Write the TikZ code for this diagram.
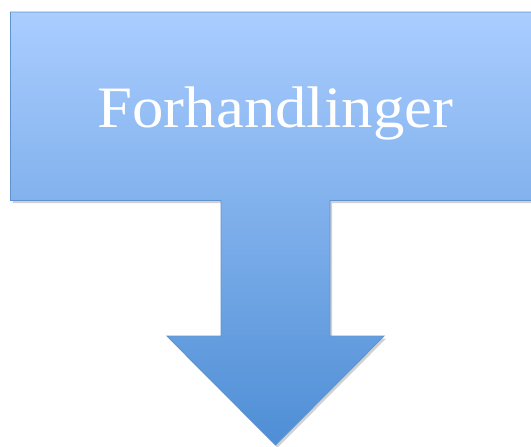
\documentclass[tikz,border=0pt]{standalone}
\usepackage{fontspec}
\setmainfont{Liberation Serif}
\usetikzlibrary{shadows}
\definecolor{tbluetop}{HTML}{AACDFF}
\definecolor{tbluebot}{HTML}{4E8ED5}
\definecolor{tblueline}{HTML}{5F93CF}
\tikzset{
  tshape/.style={draw=tblueline,line width=0.7pt,top color=tbluetop,bottom color=tbluebot,
    drop shadow={shadow xshift=1.5pt,shadow yshift=-2pt,opacity=0.3,fill=black!60}},
  tlabel/.style={text=white,font=\fontsize{44}{44}\selectfont,inner sep=0pt}
}
\begin{document}
\begin{tikzpicture}[x=0.75pt,y=-0.75pt]
\useasboundingbox (0,0) rectangle (531,446);
\draw[tshape] (10.5,12) -- (545,12) -- (545,200.5) -- (330,200.5) -- (330,336)
	-- (384,336) -- (275.5,445) -- (167,336) -- (221,336) -- (221,200.5)
	-- (10.5,200.5) -- cycle;
\node[tlabel,anchor=base] (title) at (275.5,127) {\scalebox{1.07}[1]{Forhandlinger}};
\end{tikzpicture}
\end{document}
